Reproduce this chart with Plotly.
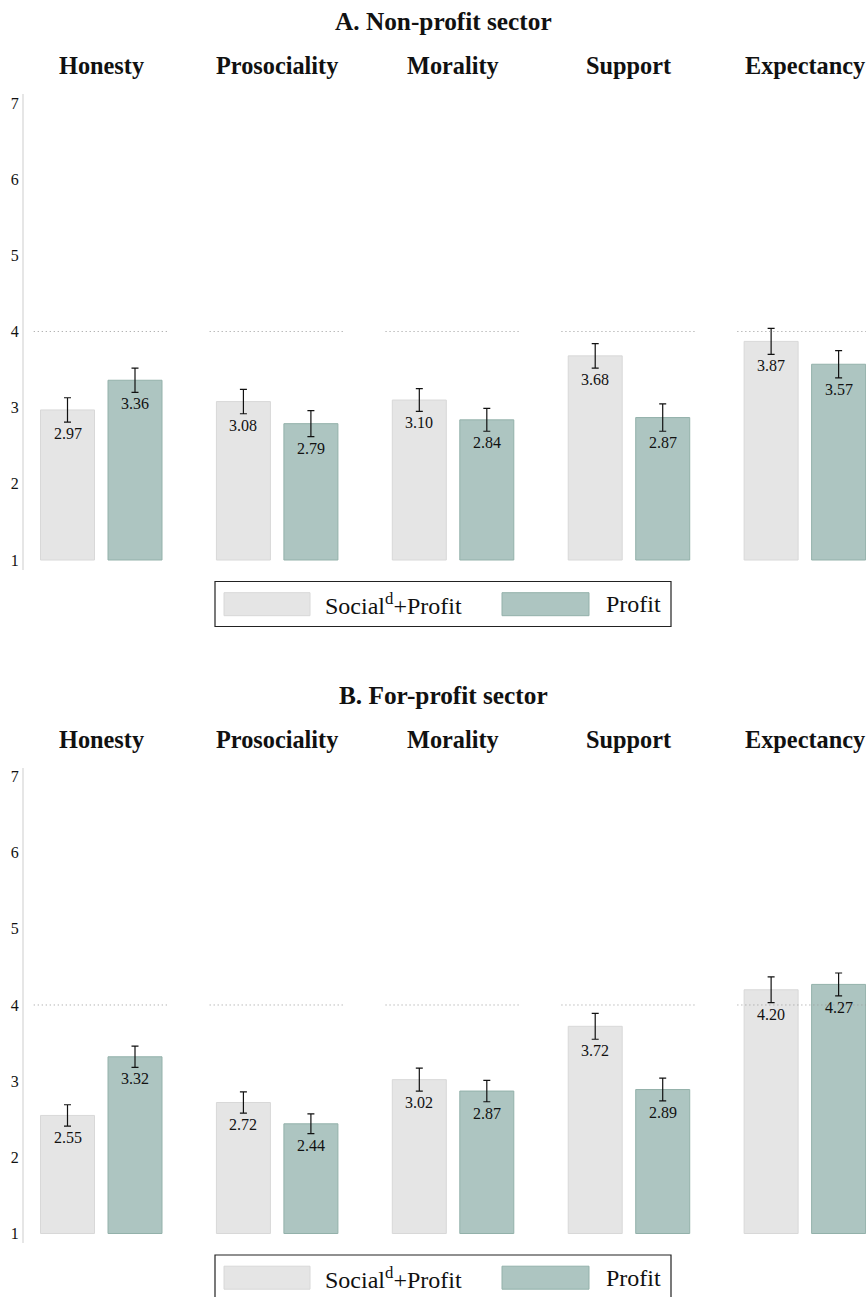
import plotly.graph_objects as go

# ---- data -------------------------------------------------------------
measures = ["Honesty", "Prosociality", "Morality", "Support", "Expectancy"]
panel_titles = ["A. Non-profit sector", "B. For-profit sector"]
series_names = ["Social<sup>d</sup>+Profit", "Profit"]

nonprofit_social = [2.97, 3.08, 3.10, 3.68, 3.87]
nonprofit_profit = [3.36, 2.79, 2.84, 2.87, 3.57]
nonprofit_social_err = [0.16, 0.16, 0.15, 0.16, 0.17]
nonprofit_profit_err = [0.16, 0.17, 0.15, 0.18, 0.18]

forprofit_social = [2.55, 2.72, 3.02, 3.72, 4.20]
forprofit_profit = [3.32, 2.44, 2.87, 2.89, 4.27]
forprofit_social_err = [0.14, 0.14, 0.15, 0.17, 0.17]
forprofit_profit_err = [0.14, 0.13, 0.14, 0.15, 0.15]

y_ticks = [1, 2, 3, 4, 5, 6, 7]
scale_floor = 1
reference_level = 4

# ---- styling / geometry ------------------------------------------------
W, H = 866, 1297
LEFT = 24
FIRST_CENTER_PX = 67.5
UNIT_PX = 67.5
GROUP_STEP = 2.606
BAR_WIDTH = 0.8
Y_RANGE = [0.875, 7.115]
Y_UNIT_PX = 76.17
BASE_PX = [560.0, 1233.5]      # pixel row of y = 1 in each panel

FONT = "Liberation Serif"
TXT = "#111111"
FILLS = ["#e5e5e5", "#adc5c1"]
EDGES = ["#d8d8d8", "#93b1aa"]

x_lo = (LEFT - FIRST_CENTER_PX) / UNIT_PX
x_hi = x_lo + (W - LEFT) / UNIT_PX


def py(px):
    return 1 - px / H


def px_x(px):
    return (px - LEFT) / (W - LEFT)


panels = [
    ([nonprofit_social, nonprofit_profit], [nonprofit_social_err, nonprofit_profit_err]),
    ([forprofit_social, forprofit_profit], [forprofit_social_err, forprofit_profit_err]),
]

fig = go.Figure()
shapes = []
annotations = []
layout_axes = {}

for p, (vals, errs) in enumerate(panels):
    xa = "x" if p == 0 else "x2"
    ya = "y" if p == 0 else "y2"
    base = BASE_PX[p]
    top_px = base - (Y_RANGE[1] - 1) * Y_UNIT_PX
    bot_px = base + (1 - Y_RANGE[0]) * Y_UNIT_PX

    for s in range(2):
        xs = [i * GROUP_STEP + s for i in range(len(measures))]
        fig.add_trace(go.Bar(
            x=xs, y=[v - scale_floor for v in vals[s]], base=scale_floor,
            width=BAR_WIDTH, xaxis=xa, yaxis=ya,
            marker=dict(color=FILLS[s], line=dict(color=EDGES[s], width=1)),
            error_y=dict(type="data", array=errs[s], color="#111111",
                         thickness=1.2, width=3.5),
            showlegend=False, hoverinfo="skip",
        ))
        # value label just below the lower end of each error bar
        for x, v, e in zip(xs, vals[s], errs[s]):
            annotations.append(dict(
                xref=xa, yref=ya, x=x, y=v - e, text=f"{v:.2f}",
                showarrow=False, xanchor="center", yanchor="top", yshift=-1,
                font=dict(family=FONT, size=16, color=TXT),
            ))

    # dotted reference line per facet
    for i in range(len(measures)):
        shapes.append(dict(
            type="line", xref=xa, yref=ya, layer="above",
            x0=i * GROUP_STEP - 0.5, x1=i * GROUP_STEP + 1.5,
            y0=reference_level, y1=reference_level,
            line=dict(color="#9a9a9a", width=1, dash="1px,3px"),
        ))
        annotations.append(dict(
            xref=xa, yref="paper", x=i * GROUP_STEP + 0.5, y=py(base - 494),
            text=f"<b>{measures[i]}</b>", showarrow=False,
            xanchor="center", yanchor="middle",
            font=dict(family=FONT, size=24.3, color=TXT),
        ))

    annotations.append(dict(
        xref="paper", yref="paper", x=px_x(443), y=py(base - 539),
        text=f"<b>{panel_titles[p]}</b>", showarrow=False,
        xanchor="center", yanchor="middle",
        font=dict(family=FONT, size=25.3, color=TXT),
    ))

    # legend box
    shapes.append(dict(
        type="rect", xref="paper", yref="paper", layer="above",
        x0=px_x(215), x1=px_x(671), y0=py(base + 21.5), y1=py(base + 66.5),
        line=dict(color="#222222", width=1.2), fillcolor="rgba(0,0,0,0)",
    ))
    for s, (sx0, sx1, tx) in enumerate([(224, 310, 323), (502, 589, 604)]):
        shapes.append(dict(
            type="rect", xref="paper", yref="paper", layer="above",
            x0=px_x(sx0), x1=px_x(sx1), y0=py(base + 32.7), y1=py(base + 55.7),
            line=dict(color=EDGES[s], width=1), fillcolor=FILLS[s],
        ))
        annotations.append(dict(
            xref="paper", yref="paper", x=px_x(tx), y=py(base + 44.5),
            text=series_names[s], showarrow=False,
            xanchor="left", yanchor="middle",
            font=dict(family=FONT, size=24, color=TXT),
        ))

    layout_axes["xaxis" if p == 0 else "xaxis2"] = dict(
        range=[x_lo, x_hi], domain=[0, 1], anchor=ya,
        showticklabels=False, showgrid=False, zeroline=False, showline=False,
        fixedrange=True,
    )
    layout_axes["yaxis" if p == 0 else "yaxis2"] = dict(
        range=Y_RANGE, domain=[py(bot_px), py(top_px)], anchor=xa,
        tickvals=y_ticks, ticktext=[str(t) for t in y_ticks],
        tickfont=dict(family=FONT, size=16, color=TXT),
        ticks="", ticklabelstandoff=0,
        showgrid=False, zeroline=False,
        showline=True, linecolor="#e6e6e6", linewidth=2,
        fixedrange=True,
    )

fig.update_layout(
    width=W, height=H,
    margin=dict(l=LEFT, r=0, t=0, b=0),
    paper_bgcolor="white", plot_bgcolor="white",
    barmode="overlay",
    font=dict(family=FONT, color=TXT),
    shapes=shapes, annotations=annotations,
    **layout_axes,
)

fig.write_html("out.html")
